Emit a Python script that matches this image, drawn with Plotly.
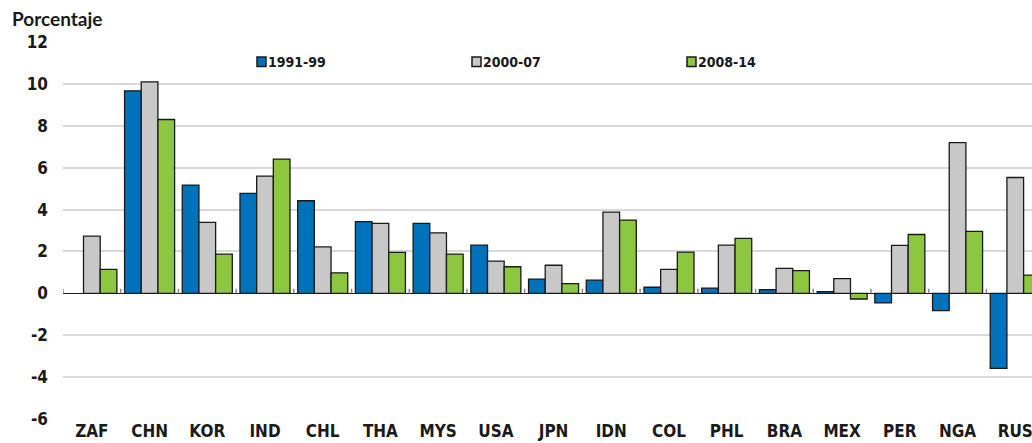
import plotly.graph_objects as go

categories = ["ZAF", "CHN", "KOR", "IND", "CHL", "THA", "MYS", "USA", "JPN",
              "IDN", "COL", "PHL", "BRA", "MEX", "PER", "NGA", "RUS"]
series_names = ["1991-99", "2000-07", "2008-14"]
v_1991_99 = [None, 9.67, 5.17, 4.77, 4.42, 3.42, 3.34, 2.30, 0.68,
             0.63, 0.29, 0.25, 0.17, 0.08, -0.46, -0.83, -3.58]
v_2000_07 = [2.73, 10.10, 3.39, 5.60, 2.22, 3.34, 2.89, 1.54, 1.34,
             3.88, 1.14, 2.30, 1.19, 0.70, 2.29, 7.20, 5.53]
v_2008_14 = [1.14, 8.30, 1.87, 6.41, 0.98, 1.96, 1.87, 1.27, 0.46,
             3.50, 1.97, 2.62, 1.08, -0.27, 2.81, 2.96, 0.87]
y_ticks = [12, 10, 8, 6, 4, 2, 0, -2, -4, -6]
y_ticktext = ["12", "10", "8", "6", "4", "2", "0", "-2", "-4", "-6"]
y_title = "Porcentaje"

colors = ["#0072BC", "#C8C8C8", "#8DC63F"]
values = [v_1991_99, v_2000_07, v_2008_14]

FONT = "DejaVu Sans Condensed, Liberation Sans, Arial, sans-serif"
TXT = "#1a1a1a"

fig = go.Figure()
for name, vals, col in zip(series_names, values, colors):
    fig.add_trace(go.Bar(
        x=categories, y=vals, name=name,
        marker=dict(color=col, line=dict(color="#1a1a1a", width=1.3)),
        showlegend=False,
    ))

# category boundary ticks on the zero line
shapes = []
for i in range(len(categories) + 1):
    shapes.append(dict(type="line", xref="x", yref="y",
                       x0=i - 0.5, x1=i - 0.5, y0=0, y1=0.22,
                       line=dict(color="#888888", width=1.5), layer="above"))

# manual legend (squares + text)
legend_x = [257, 472, 687]
annotations = []
for name, col, lx in zip(series_names, colors, legend_x):
    shapes.append(dict(type="rect", xref="paper", yref="paper",
                       x0=(lx - 63) / 969, x1=(lx + 9 - 63) / 969,
                       y0=(443 - 24 - 66.5) / 377, y1=(443 - 24 - 57) / 377,
                       fillcolor=col, line=dict(color="#1a1a1a", width=1.5)))
    annotations.append(dict(text="<b>" + name + "</b>", xref="paper", yref="paper",
                            x=(lx + 9 - 63) / 969, y=(443 - 24 - 61.5) / 377,
                            xanchor="left", yanchor="middle", showarrow=False,
                            font=dict(family=FONT, size=14, color=TXT)))

annotations.append(dict(text="<b>" + y_title + "</b>", xref="paper", yref="paper",
                        x=(10 - 63) / 969, y=(443 - 24 - 18.5) / 377,
                        xanchor="left", yanchor="middle", showarrow=False,
                        font=dict(family="Lato, sans-serif", size=19, color=TXT)))

fig.update_layout(
    width=1032, height=443,
    margin=dict(l=63, r=0, t=42, b=24, autoexpand=False),
    paper_bgcolor="white", plot_bgcolor="white",
    barmode="group", bargap=0.133, bargroupgap=0,
    font=dict(family=FONT, size=17, color=TXT),
    shapes=shapes, annotations=annotations,
    xaxis=dict(range=[-0.5, 16.29], showgrid=False, showline=False, ticks="",
               tickfont=dict(family=FONT, size=17, color=TXT, weight="bold"),
               ticklabelstandoff=0,
               automargin=False, fixedrange=True),
    yaxis=dict(range=[-6, 12], tickvals=y_ticks, ticktext=y_ticktext, showgrid=True,
               gridcolor="#D9D9D9", gridwidth=2,
               zeroline=True, zerolinecolor="#1a1a1a", zerolinewidth=1.2,
               showline=False, ticks="", ticklabelstandoff=14,
               tickfont=dict(family=FONT, size=17, color=TXT, weight="bold"),
               automargin=False, fixedrange=True),
)

fig.write_html("out.html", config={"displayModeBar": False},
               post_script="document.body.style.margin='0';document.body.style.padding='0';")
